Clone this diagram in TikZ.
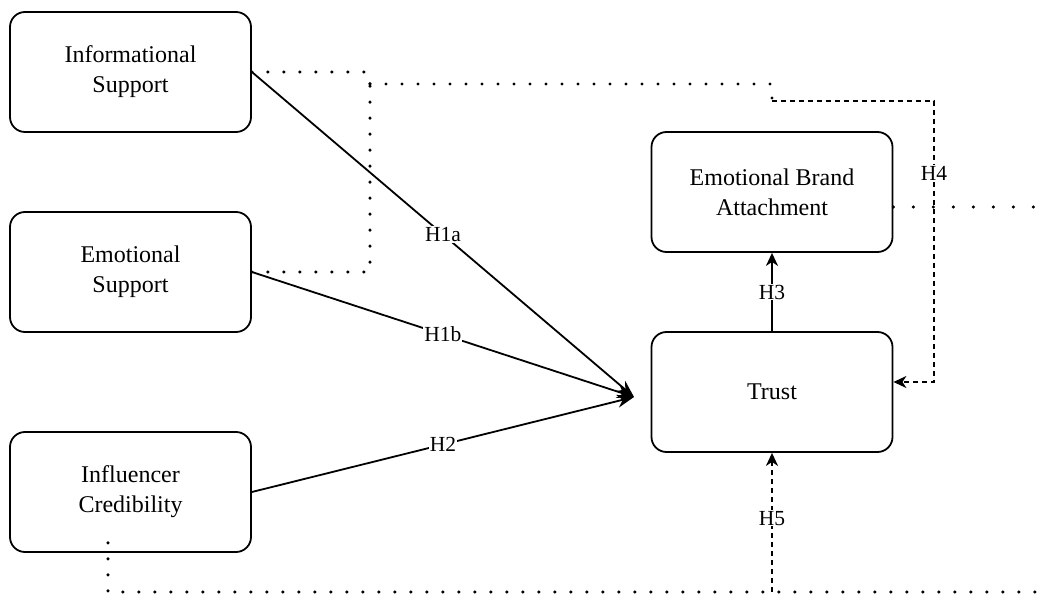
\documentclass[tikz,border=0pt]{standalone}
\usepackage{fontspec}
\setmainfont{Liberation Serif}
\usetikzlibrary{arrows.meta}
\begin{document}
\begin{tikzpicture}[x=1pt,y=-1pt,
  box/.style={draw, line width=1.8pt, rounded corners=15pt, minimum width=241pt, minimum height=120pt,
    align=center, font=\fontsize{24}{30}\selectfont, inner sep=0pt},
  hyp/.style={line width=1.8pt},
  lbl/.style={fill=white, inner sep=1pt, font=\fontsize{21.5}{24}\selectfont},
  dotline/.style={line width=3.4pt, line cap=round, dash pattern=on 0pt off 16pt},
  dotwide/.style={line width=3.4pt, line cap=round, dash pattern=on 0pt off 20pt},
  dashline/.style={line width=1.7pt, dash pattern=on 5pt off 4pt},
  tip/.style={-{Stealth[length=13pt,width=12pt,inset=4pt]}},
  bigtip/.style={-{Stealth[length=17pt,width=13pt]}}
]
\useasboundingbox (0,0) rectangle (1044,601);

\node[box] (info) at (130.5,72) {Informational\\Support};
\node[box] (emo) at (130.5,272) {Emotional\\Support};
\node[box] (infl) at (130.5,492) {Influencer\\Credibility};
\node[box] (eba) at (772,192) {Emotional Brand\\Attachment};
\node[box] (trust) at (772,392) {Trust};

\coordinate (conv) at (634,397);
\coordinate (jct) at (370,84);
\coordinate (modtop) at (772,101);
\coordinate (modbot) at (772,592);

% dotted moderation lines
\draw[dotline] (info.east) -- (368,72) -- (jct);
\draw[dotline] (emo.east) -- (370,272) -- (jct);
\draw[dotline] (jct) -- (772,84) -- (modtop);
\draw[dotwide] ([yshift=-15pt]eba.east) -- (1044,207);
\draw[dotline] ([xshift=-22.5pt,yshift=10pt]infl.south) -- (108,592) -- (modbot) -- (1044,592);

% hypotheses
\draw[hyp, bigtip] (info.east) -- node[lbl, pos=0.5] {H1a} (conv);
\draw[hyp, bigtip] (emo.east) -- node[lbl, pos=0.5] {H1b} (conv);
\draw[hyp, bigtip] (infl.east) -- node[lbl, pos=0.5] {H2} (conv);
\draw[hyp, tip] (trust.north) -- node[lbl] {H3} (eba.south);
\draw[dashline, tip] (modtop) -- (934,101) -- node[lbl, pos=0.256] {H4} (934,382) -- ([yshift=10pt]trust.east);
\draw[dashline, tip] (modbot) -- node[lbl, pos=0.53] {H5} (trust.south);
\end{tikzpicture}
\end{document}
